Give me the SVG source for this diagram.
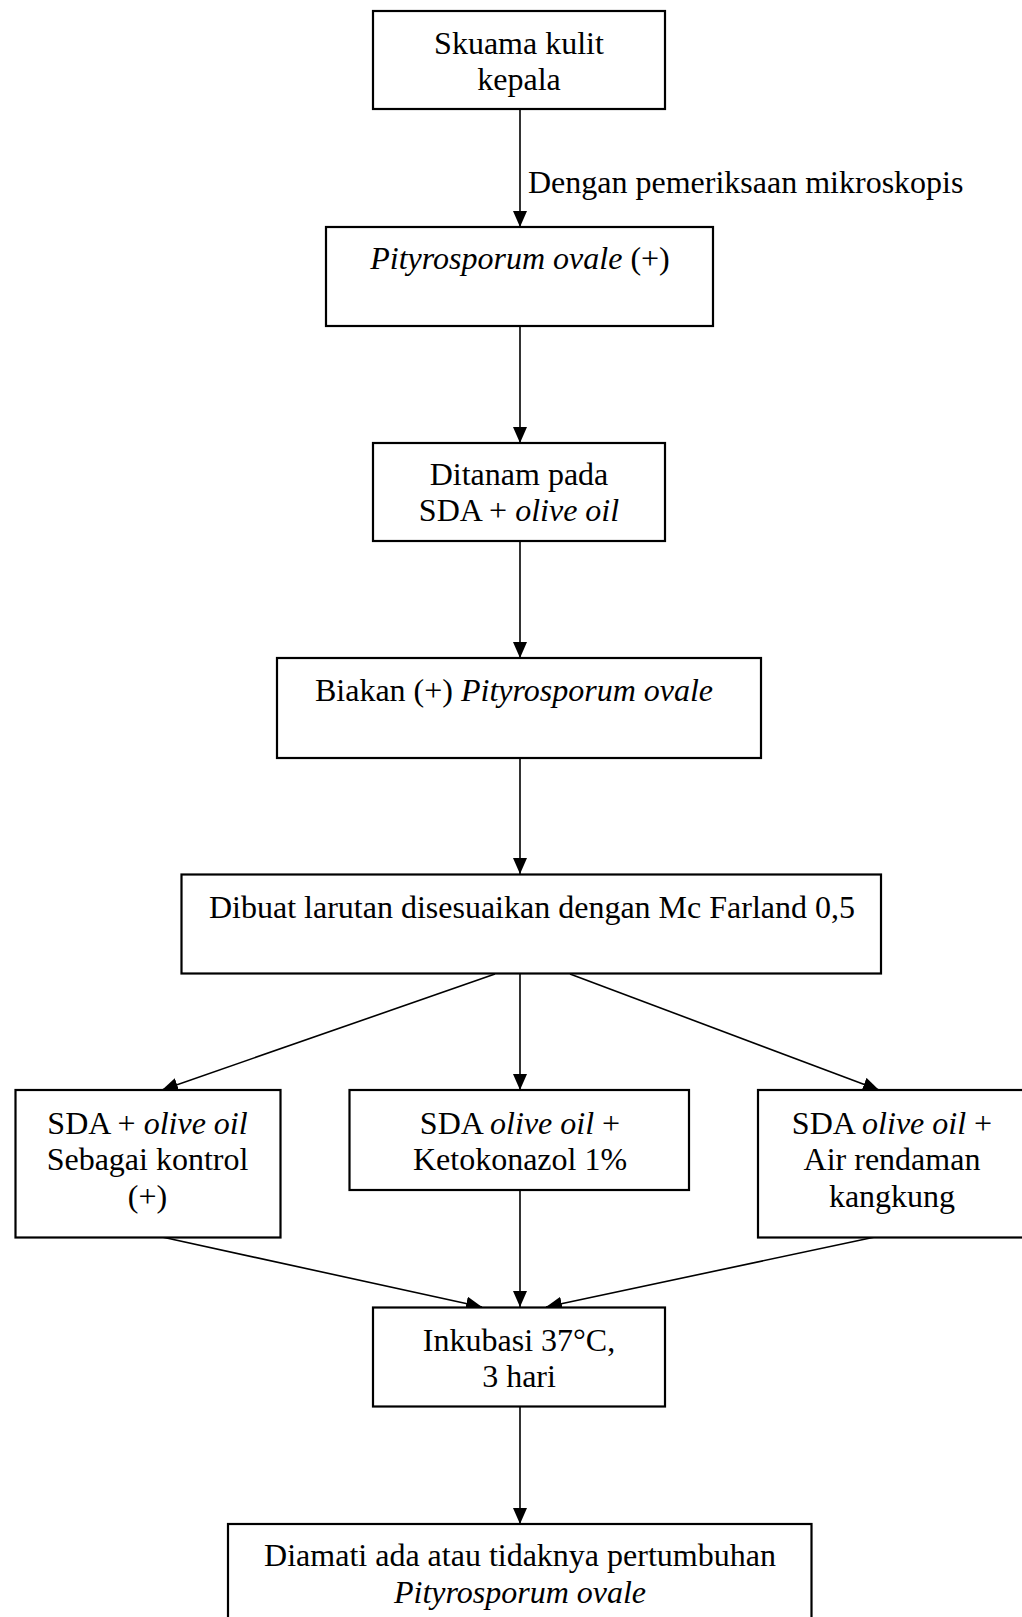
<svg xmlns="http://www.w3.org/2000/svg" width="1022" height="1617" viewBox="0 0 1022 1617">
<style>
.box{fill:#fff;stroke:#000;stroke-width:2.2}
.ln{stroke:#000;stroke-width:1.6;fill:none;marker-end:url(#ah)}
text{font-family:"Liberation Serif","Times New Roman",serif;font-size:32px;fill:#000;text-anchor:middle}
.i{font-style:italic}
</style>
<defs>
<marker id="ah" viewBox="0 0 16 14" refX="16" refY="7" markerWidth="16" markerHeight="14" markerUnits="userSpaceOnUse" orient="auto">
<path d="M0,0 L16,7 L0,14 Z" fill="#000"/>
</marker>
</defs>
<rect width="1022" height="1617" fill="#fff"/>
<g id="connectors">
<line class="ln" x1="520" y1="109" x2="520" y2="227"/>
<text x="528" y="193" style="text-anchor:start">Dengan pemeriksaan mikroskopis</text>
<line class="ln" x1="520" y1="326" x2="520" y2="443"/>
<line class="ln" x1="520" y1="541" x2="520" y2="658"/>
<line class="ln" x1="520" y1="758" x2="520" y2="874"/>
<line class="ln" x1="495" y1="974" x2="162" y2="1090"/>
<line class="ln" x1="520" y1="974" x2="520" y2="1090"/>
<line class="ln" x1="570" y1="974" x2="879" y2="1090"/>
<line class="ln" x1="162" y1="1237" x2="482" y2="1307"/>
<line class="ln" x1="520" y1="1190" x2="520" y2="1307"/>
<line class="ln" x1="875" y1="1237" x2="546" y2="1307"/>
<line class="ln" x1="520" y1="1407" x2="520" y2="1524"/>
</g>
<g id="n1"><rect class="box" x="373" y="11" width="292" height="98"/>
<text x="519" y="54">Skuama kulit</text><text x="519" y="90">kepala</text></g>
<g id="n2"><rect class="box" x="326" y="227" width="387" height="99"/>
<text x="520" y="269"><tspan class="i">Pityrosporum ovale</tspan> (+)</text></g>
<g id="n3"><rect class="box" x="373" y="443" width="292" height="98"/>
<text x="519" y="485">Ditanam pada</text><text x="519" y="521">SDA + <tspan class="i">olive oil</tspan></text></g>
<g id="n4"><rect class="box" x="277" y="658" width="484" height="100"/>
<text x="514" y="701">Biakan (+) <tspan class="i">Pityrosporum ovale</tspan></text></g>
<g id="n5"><rect class="box" x="181.5" y="874.5" width="699.5" height="99"/>
<text x="532" y="918">Dibuat larutan disesuaikan dengan Mc Farland 0,5</text></g>
<g id="n6"><rect class="box" x="15.5" y="1090" width="265" height="147.5"/>
<text x="147.5" y="1134">SDA + <tspan class="i">olive oil</tspan></text>
<text x="147.5" y="1170">Sebagai kontrol</text>
<text x="147.5" y="1207">(+)</text></g>
<g id="n7"><rect class="box" x="349.5" y="1090" width="339.5" height="100"/>
<text x="520" y="1134">SDA <tspan class="i">olive oil</tspan> +</text>
<text x="520" y="1170">Ketokonazol 1%</text></g>
<g id="n8"><rect class="box" x="758" y="1090" width="280" height="147.5"/>
<text x="892" y="1134">SDA <tspan class="i">olive oil</tspan> +</text>
<text x="892" y="1170">Air rendaman</text>
<text x="892" y="1207">kangkung</text></g>
<g id="n9"><rect class="box" x="373" y="1307.5" width="292" height="99"/>
<text x="519" y="1351">Inkubasi 37°C,</text><text x="519" y="1387">3 hari</text></g>
<g id="n10"><rect class="box" x="228" y="1524" width="583.5" height="110"/>
<text x="520" y="1566">Diamati ada atau tidaknya pertumbuhan</text>
<text x="520" y="1603"><tspan class="i">Pityrosporum ovale</tspan></text></g>
</svg>
